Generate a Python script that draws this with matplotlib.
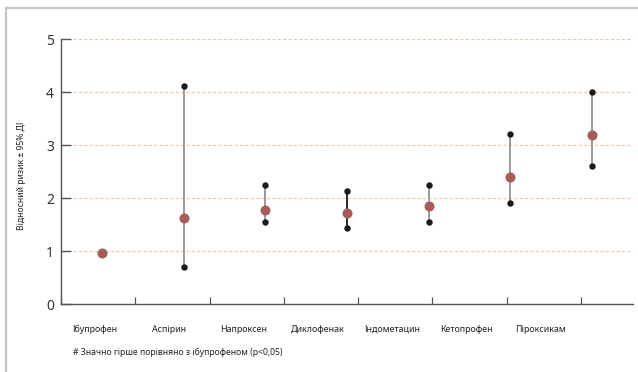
import matplotlib
matplotlib.use("Agg")
import matplotlib.pyplot as plt
from matplotlib.lines import Line2D
import numpy as np

plt.rcParams['font.family'] = ['Noto Sans', 'DejaVu Sans']

drugs = ["Ібупрофен", "Аспірин", "Напроксен", "Диклофенак",
         "Індометацин", "Кетопрофен", "Піроксикам"]
rr = [0.96, 1.63, 1.77, 1.71, 1.86, 2.40, 3.20]
ci_low = [None, 0.69, 1.54, 1.44, 1.54, 1.91, 2.61]
ci_high = [None, 4.11, 2.24, 2.14, 2.24, 3.22, 4.00]
whisker_colors = [None, "#9a9a9a", "#9a9a9a", "#2a2a2a", "#9a9a9a", "#9a9a9a", "#9a9a9a"]
y_ticks = [0, 1, 2, 3, 4, 5]
y_label = "Відносний ризик ± 95% ДІ"
footnote = "# Значно гірше порівняно з ібупрофеном (p<0,05)"

W, H = 638, 372
fig = plt.figure(figsize=(W / 100, H / 100), dpi=100)

# outer frame (top and left edges of a panel)
frame_col = "#c4c4c4"
fig.add_artist(Line2D([6 / W, 1], [1 - 8 / H, 1 - 8 / H], transform=fig.transFigure,
                      color=frame_col, lw=1.6))
fig.add_artist(Line2D([6 / W, 6 / W], [0, 1 - 8 / H], transform=fig.transFigure,
                      color=frame_col, lw=1.6))

left, right, top, bottom = 61, 633, 39.3, 304
ax = fig.add_axes([left / W, 1 - bottom / H, (right - left) / W, (bottom - top) / H])
ax.set_ylim(0, 5)
n = len(drugs)
ax.set_xlim(-0.5, n - 0.5)

for s in ["top", "right"]:
    ax.spines[s].set_visible(False)
for s in ["left", "bottom"]:
    ax.spines[s].set_color("#555555")
    ax.spines[s].set_linewidth(1.0)

# dashed reference lines
for v in y_ticks[1:]:
    ax.axhline(v, xmin=12 / (right - left), xmax=1, color="#f3c3b0", lw=0.9,
               ls=(0, (2.5, 1.8)), zorder=1)

xs = np.arange(n)
for i in range(n):
    if ci_low[i] is not None:
        ax.plot([xs[i], xs[i]], [ci_low[i], ci_high[i]], color=whisker_colors[i],
                lw=1.4, zorder=2, solid_capstyle="butt")
        ax.plot([xs[i], xs[i]], [ci_low[i], ci_high[i]], ls="none", marker="o",
                ms=3.6, color="#1a1a1a", zorder=3)
ax.plot(xs, rr, ls="none", marker="o", ms=6.2, color="#a85c56", zorder=4)

ax.set_yticks(y_ticks)
ax.set_yticklabels([str(v) for v in y_ticks], fontsize=10, color="#333333",
                   fontweight="semibold")
ax.tick_params(axis="y", direction="in", length=7, width=1.0, color="#555555", pad=5)
ax.set_xticks([])

# category axis: labels centred between tick marks
ax2 = ax.twiny()
ax2.set_xlim(-0.5, 7.2)
ax2.xaxis.set_ticks_position("bottom")
for s in ax2.spines.values():
    s.set_visible(False)
ax2.set_xticks(np.arange(n + 1) - 0.5, minor=False)
ax2.set_xticklabels([])
ax2.tick_params(axis="x", which="major", direction="in", length=5, width=0.9,
                color="#555555")
ax2.set_xticks(np.arange(n) - 0.04, minor=True)
ax2.set_xticklabels(drugs, minor=True, fontsize=6.4, color="#222222")
ax2.tick_params(axis="x", which="minor", length=0, pad=15)

fig.text(22 / W, 1 - 176 / H, y_label, rotation=90, ha="center", va="center",
         fontsize=6.2, color="#222222")
fig.text(73 / W, 1 - 352 / H, footnote, ha="left", va="center", fontsize=6.2,
         color="#222222")

fig.savefig("out.png", dpi=100)
